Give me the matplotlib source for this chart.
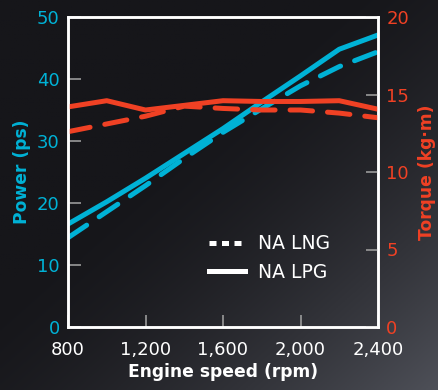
import matplotlib.pyplot as plt
import numpy as np

rpm = [800, 1000, 1200, 1400, 1600, 1800, 2000, 2200, 2400]
power_lpg = [16.6, 20.2, 24.0, 28.0, 32.0, 36.3, 40.5, 44.8, 47.1]
power_lng = [14.4, 18.6, 22.8, 27.2, 31.4, 35.2, 38.9, 42.0, 44.4]
torque_lpg = [14.2, 14.6, 14.0, 14.3, 14.6, 14.55, 14.55, 14.6, 14.05]
torque_lng = [12.6, 13.1, 13.6, 14.25, 14.1, 14.0, 14.0, 13.8, 13.5]

cyan = '#00b2d6'
red = '#f04124'
tick_grey = '#9a9a9a'

fig = plt.figure(figsize=(4.39, 3.90), dpi=100)

# dark background, a bit lighter towards the bottom right
bg = fig.add_axes([0, 0, 1, 1], zorder=-10)
yy, xx = np.mgrid[0:1:200j, 0:1:200j]
w = np.clip((xx * 0.6 + yy * 0.6 - 0.45) / 0.75, 0, 1) ** 1.6
dark = np.array([22, 22, 26]) / 255
light = np.array([78, 80, 88]) / 255
img = dark + w[..., None] * (light - dark)
bg.imshow(img, aspect='auto', extent=[0, 1, 0, 1], origin='upper')
bg.axis('off')

ax = fig.add_axes([68 / 439, 1 - 327 / 390, 310 / 439, 310 / 390])
ax.patch.set_alpha(0)
ax2 = ax.twinx()

ax.plot(rpm, power_lpg, color=cyan, lw=3.6, solid_capstyle='butt')
ax.plot(rpm, power_lng, color=cyan, lw=3.6, dashes=(4.5, 3), dash_capstyle='round')
ax2.plot(rpm, torque_lpg, color=red, lw=3.6, solid_capstyle='butt')
ax2.plot(rpm, torque_lng, color=red, lw=3.6, dashes=(4.5, 3), dash_capstyle='round')

ax.set_xlim(800, 2400)
ax.set_ylim(0, 50)
ax2.set_ylim(0, 20)
ax.set_xticks([800, 1200, 1600, 2000, 2400])
ax.set_xticklabels(['800', '1,200', '1,600', '2,000', '2,400'])
ax.set_yticks([0, 10, 20, 30, 40, 50])
ax2.set_yticks([0, 5, 10, 15, 20])

for a in (ax, ax2):
    for s in a.spines.values():
        s.set_color('white')
        s.set_linewidth(1.8)

ax.tick_params(axis='y', direction='in', length=9, width=1.2, color=tick_grey,
               labelcolor=cyan, labelsize=13, pad=6)
ax.tick_params(axis='x', direction='in', length=9, width=1.2, color=tick_grey,
               labelcolor='white', labelsize=13, pad=10)
ax2.tick_params(axis='y', direction='in', length=9, width=1.2, color=tick_grey,
                labelcolor=red, labelsize=13, pad=6)

ax.set_xlabel('Engine speed (rpm)', color='white', fontsize=12.3, fontweight='bold', labelpad=3)
ax.set_ylabel('Power (ps)', color=cyan, fontsize=12.3, fontweight='bold', labelpad=4)
ax2.set_ylabel('Torque (kg\u00b7m)', color=red, fontsize=12.3, fontweight='bold', labelpad=6)

h1, = ax.plot([], [], color='white', lw=3.6, dashes=(1.4, 1.1))
h2, = ax.plot([], [], color='white', lw=3.6)
leg = ax.legend([h1, h2], ['NA LNG', 'NA LPG'], loc='lower left',
                bbox_to_anchor=(0.455, 0.146), frameon=False, fontsize=13.5,
                borderpad=0, borderaxespad=0,
                handlelength=1.9, labelspacing=0.5, handletextpad=0.7)
for t in leg.get_texts():
    t.set_color('white')

fig.savefig('out.png', dpi=100)
